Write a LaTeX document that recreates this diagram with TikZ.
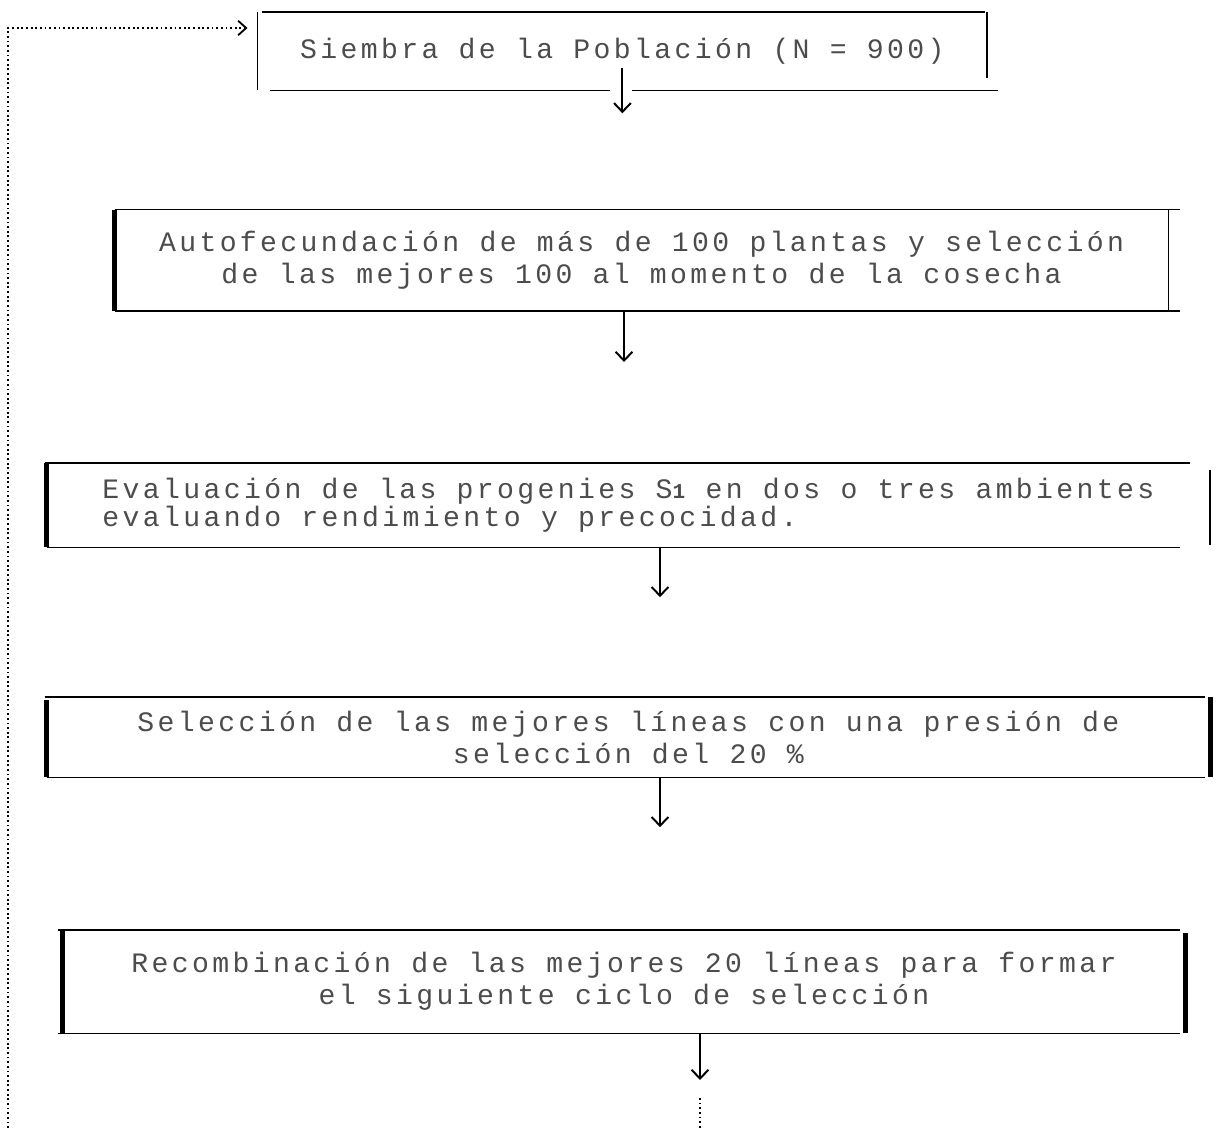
\documentclass[tikz,border=0pt]{standalone}
\usepackage{fontspec}
\newfontfamily\typefont[LetterSpace=12]{Liberation Mono}
\usetikzlibrary{arrows,arrows.meta,positioning}

\tikzset{
  paso/.style={inner sep=0pt, align=center, text=black!70,
    font=\typefont\fontsize{20pt}{22.7pt}\selectfont},
  borde/.style={line width=1.3pt},
  grueso/.style={line width=3.5pt},
  flujo/.style={-{Straight Barb[length=2.2mm,width=4.2mm]}, line width=1.4pt},
  punteado/.style={dotted, line width=1.3pt},
  retorno/.style={-{Straight Barb[length=2mm,width=3.6mm]}, dotted, line width=1.3pt}
}

\begin{document}
\begin{tikzpicture}
\useasboundingbox (0,0) rectangle (30.5,-28.2);

\node[paso, minimum width=18.23cm, minimum height=1.95cm] (b1) at (15.56,-1.28)
  {Siembra de la Población (N = 900)};
\node[paso, minimum width=26.33cm, minimum height=2.53cm] (b2) at (16.04,-6.51)
  {Autofecundación de más de 100 plantas y selección\\de las mejores 100 al momento de la cosecha};
\node[paso, align=left, minimum width=29.08cm, minimum height=2.1cm,
  font=\typefont\fontsize{20pt}{19.6pt}\selectfont] (b3) at (15.71,-12.63)
  {Evaluación de las progenies S{\bfseries\fontsize{15pt}{15pt}\selectfont 1} en dos o tres ambientes\\evaluando rendimiento y precocidad.};
\node[paso, minimum width=29.08cm, minimum height=2.0cm] (b4) at (15.71,-18.43)
  {Selección de las mejores líneas con una presión de\\selección del 20 \%};
\node[paso, minimum width=28.05cm, minimum height=2.58cm] (b5) at (15.6,-24.54)
  {Recombinación de las mejores 20 líneas para formar\\el siguiente ciclo de selección};

% marcos
\draw[borde] ([xshift=.1cm]b1.north west) -- ([xshift=-.05cm]b1.north east);
\draw[borde] ([xshift=.3cm]b1.south west) -- ([xshift=-.3cm]b1.south);
\draw[borde] ([xshift=.25cm]b1.south) -- ([xshift=.28cm]b1.south east);
\draw[borde] (b1.north west) -- (b1.south west);
\draw[borde] (b1.north east) -- ([yshift=.3cm]b1.south east);

\draw[borde] (b2.north west) -- ([xshift=.3cm]b2.north east);
\draw[borde] (b2.south west) -- ([xshift=.3cm]b2.south east);
\draw[grueso] (b2.north west) -- (b2.south west);
\draw[borde] (b2.north east) -- (b2.south east);

\draw[borde] ([xshift=-.05cm]b3.north west) -- ([xshift=-.5cm]b3.north east);
\draw[borde] (b3.south west) -- ([xshift=-.75cm]b3.south east);
\draw[grueso] (b3.north west) -- (b3.south west);
\draw[borde] ([yshift=-.18cm]b3.north east) -- ([yshift=.05cm]b3.south east);

\draw[borde] ([xshift=-.05cm]b4.north west) -- ([xshift=-.12cm]b4.north east);
\draw[borde] (b4.south west) -- ([xshift=-.12cm]b4.south east);
\draw[grueso] ([yshift=-.08cm]b4.north west) -- (b4.south west);
\draw[grueso] (b4.north east) -- (b4.south east);

\draw[borde] ([xshift=-.12cm]b5.north west) -- ([xshift=-.12cm]b5.north east);
\draw[borde] ([xshift=-.12cm]b5.south west) -- ([xshift=-.12cm]b5.south east);
\draw[grueso] (b5.north west) -- (b5.south west);
\draw[grueso] ([yshift=-.08cm]b5.north east) -- (b5.south east);

% flechas
\coordinate[below=.57cm of b1.south] (e1);
\coordinate (e2) at (15.6,-9.05);
\coordinate (e3) at (16.5,-14.93);
\coordinate (e4) at (16.5,-20.68);
\coordinate (e5) at (17.5,-27.0);
\coordinate (d5) at (17.5,-27.45);
\coordinate (d6) at (17.5,-28.2);
\coordinate (fb) at (0.2,-28.2);

\draw[flujo] ([yshift=.55cm]b1.south) -- (e1);
\draw[flujo] (b2.south -| e2) -- (e2);
\draw[flujo] (b3.south -| e3) -- (e3);
\draw[flujo] (b4.south -| e4) -- (e4);
\draw[flujo] (b5.south -| e5) -- (e5);
\draw[punteado] (d5) -- (d6);

\draw[retorno] (fb) |- ([yshift=.58cm, xshift=-.25cm]b1.west);
\end{tikzpicture}
\end{document}
